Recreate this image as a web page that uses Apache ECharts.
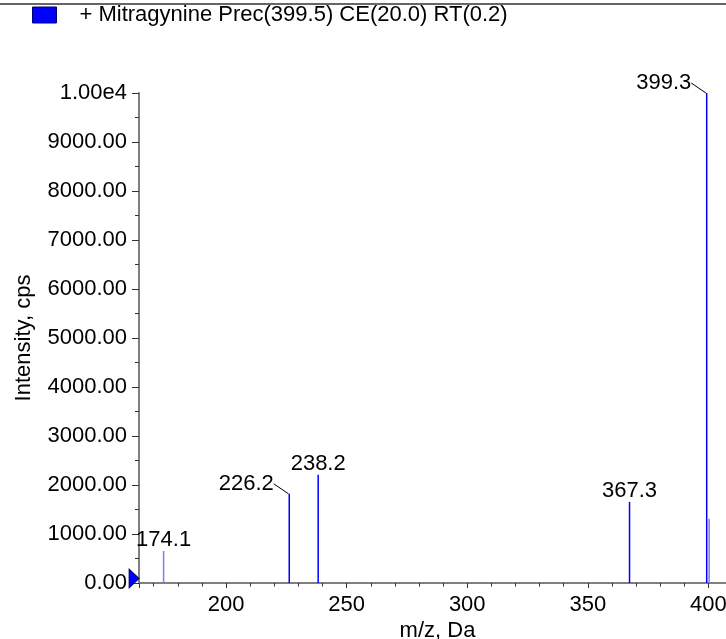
<!DOCTYPE html>
<html>
<head>
<meta charset="utf-8">
<script src="https://cdn.jsdelivr.net/npm/echarts@6/dist/echarts.min.js"></script>
<style>
html,body{margin:0;padding:0;background:#fff;}
#chart{width:726px;height:639px;}
</style>
</head>
<body>
<div id="chart"></div>
<script>
// ---- data ----
const legendText = '+ Mitragynine Prec(399.5) CE(20.0) RT(0.2)';
const mzValues = [174.1, 226.2, 238.2, 367.3, 399.3, 400.3];
const intensityValues = [654, 1820, 2209, 1656, 10000, 1309];
const peakLabels = ['174.1', '226.2', '238.2', '367.3', '399.3', ''];
const peakShade = ['light', 'dark', 'dark', 'dark', 'dark', 'light'];
const leaderPeaks = ['226.2', '399.3'];
const xRange = [163.9, 407.3];
const yRange = [0, 10000];
const yTickStep = 1000;
const baseMarker = [[163.9, 0]];

const FONT = 'Arial, "Liberation Sans", sans-serif';
const chart = echarts.init(document.getElementById('chart'));

const barData = mzValues.map((m, i) => ({
  value: [m, intensityValues[i]],
  itemStyle: { color: peakShade[i] === 'light' ? '#7a7aff' : '#0000ff' },
  label: { show: peakLabels[i] !== '' }
}));

chart.setOption({
  animation: false,
  textStyle: { fontFamily: FONT },
  graphic: [{
    type: 'line', shape: { x1: 0, y1: 4, x2: 726, y2: 4 },
    style: { stroke: '#333', lineWidth: 1.5 }
  }],
  legend: {
    left: 27, top: -1,
    itemWidth: 24, itemHeight: 16,
    icon: 'rect',
    itemStyle: { color: '#0000ff', borderColor: '#00006a', borderWidth: 1 },
    textStyle: { fontSize: 22, color: '#000', fontFamily: FONT, padding: [13, 0, 0, 18] },
    data: [legendText]
  },
  grid: { left: 139, right: 0, top: 93, bottom: 56, containLabel: false, outerBoundsMode: 'none' },
  xAxis: {
    type: 'value',
    min: xRange[0], max: xRange[1],
    splitNumber: 5,
    name: 'm/z, Da', nameLocation: 'middle', nameGap: 37, nameMoveOverlap: false,
    nameTextStyle: { fontSize: 22, color: '#000', fontFamily: FONT, padding: [0, 0, 0, 10] },
    axisLine: { show: true, lineStyle: { color: '#808080', width: 2 } },
    axisTick: { show: true, length: 5, lineStyle: { color: '#333', width: 1 } },
    minorTick: { show: true, splitNumber: 5, length: 3.5, lineStyle: { color: '#333', width: 1 } },
    splitLine: { show: false },
    axisLabel: { fontSize: 22, color: '#000', margin: 11, showMinLabel: false, showMaxLabel: false, fontFamily: FONT }
  },
  yAxis: {
    type: 'value',
    min: yRange[0], max: yRange[1], interval: yTickStep,
    name: 'Intensity, cps', nameLocation: 'middle', nameGap: 104, nameMoveOverlap: false,
    nameTextStyle: { fontSize: 22, color: '#000', fontFamily: FONT },
    axisLine: { show: true, lineStyle: { color: '#808080', width: 2 } },
    axisTick: { show: true, length: 7, lineStyle: { color: '#333', width: 1 } },
    minorTick: { show: true, splitNumber: 2, length: 4, lineStyle: { color: '#333', width: 1 } },
    splitLine: { show: false },
    axisLabel: {
      fontSize: 22, color: '#000', margin: 12, fontFamily: FONT,
      formatter: v => v >= 10000 ? (v / 10000).toFixed(2) + 'e4' : v.toFixed(2)
    }
  },
  series: [{
    name: legendText,
    type: 'bar',
    barWidth: 1.5,
    itemStyle: { color: '#0000ff' },
    data: barData,
    label: {
      position: 'top', distance: 0, fontSize: 22, color: '#000', fontFamily: FONT,
      formatter: p => peakLabels[p.dataIndex]
    },
    labelLine: { show: true, lineStyle: { color: '#000', width: 1 } },
    labelLayout: p => leaderPeaks.indexOf(peakLabels[p.dataIndex]) >= 0 ? { dx: -43, dy: 1 } : {}
  }, {
    type: 'scatter',
    data: baseMarker,
    symbol: 'triangle',
    symbolSize: [19, 10],
    symbolRotate: -90,
    symbolOffset: [-5, -4.5],
    clip: false,
    silent: true,
    z: 5,
    itemStyle: { color: '#0000ff', borderColor: '#00006a', borderWidth: 1, opacity: 1 }
  }]
});
</script>
</body>
</html>
